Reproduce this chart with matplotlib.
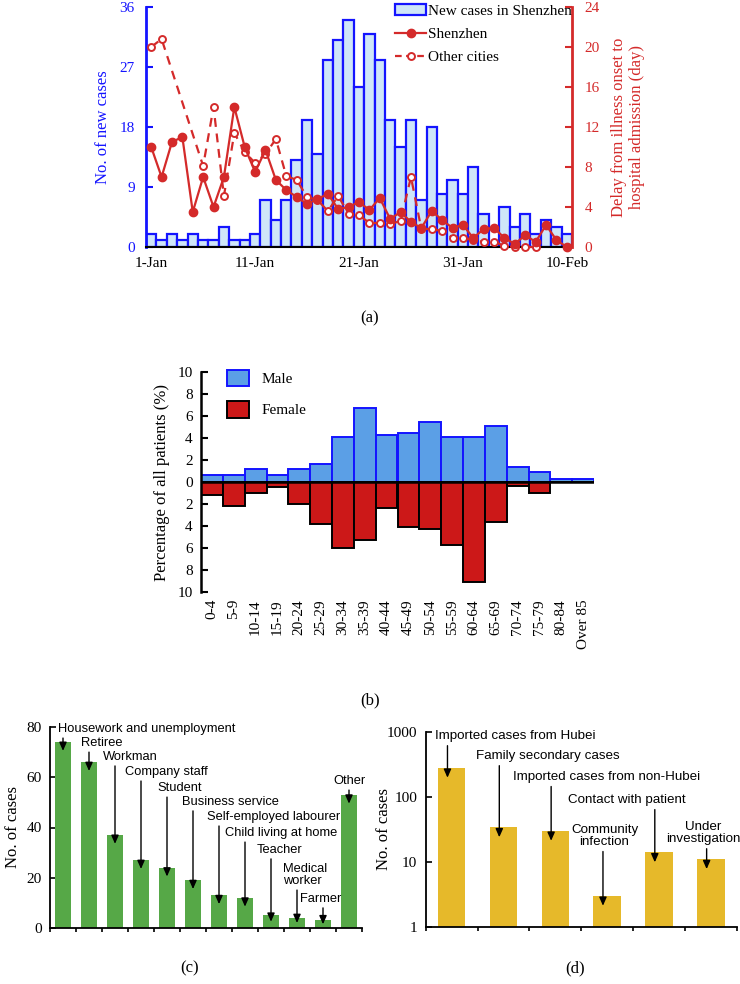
import numpy as np
import matplotlib
matplotlib.use('Agg')
import matplotlib.pyplot as plt
from matplotlib.patches import Patch
from matplotlib.lines import Line2D

SERIF = ['Liberation Serif', 'DejaVu Serif']
SANS = ['Liberation Sans', 'DejaVu Sans']
plt.rcParams['font.family'] = SERIF

# ---------------- data ----------------
# (a)
days = list(range(1, 42))
date_ticks = [1, 11, 21, 31, 41]
date_labels = ['1-Jan', '11-Jan', '21-Jan', '31-Jan', '10-Feb']
new_cases = [2, 1, 2, 1, 2, 1, 1, 3, 1, 1,
             2, 7, 4, 7, 13, 19, 14, 28, 31, 34,
             24, 32, 28, 19, 15, 19, 7, 18, 8, 10,
             8, 12, 5, 0, 6, 3, 5, 2, 4, 3, 2]
delay_shenzhen = [10, 7, 10.5, 11, 3.5, 7, 4, 7, 14, 10,
                  7.5, 9.7, 6.7, 5.7, 5.0, 4.3, 4.8, 5.3, 3.8, 4.0,
                  4.5, 3.7, 4.9, 2.8, 3.5, 2.5, 1.9, 3.6, 2.7, 1.9,
                  2.2, 0.9, 1.8, 1.9, 0.9, 0.3, 1.2, 0.5, 2.2, 0.7, 0]
other_days = [1, 2, 6, 7, 8, 9, 10, 11, 12, 13, 14, 15, 16, 17, 18, 19, 20, 21,
              22, 23, 24, 25, 26, 27, 28, 29, 30, 31, 32, 33, 34, 35, 36, 37, 38]
delay_other = [20, 20.8, 8.1, 14, 5.1, 11.4, 9.5, 8.4, 9.3, 10.8, 7.1, 6.7,
               5.0, 4.7, 3.6, 5.1, 3.3, 3.2, 2.4, 2.4, 2.3, 2.6, 7.0, 1.8,
               1.8, 1.6, 0.95, 0.9, 0.7, 0.5, 0.55, 0.1, 0, 0, 0]

# (b)
age_groups = ['0-4', '5-9', '10-14', '15-19', '20-24', '25-29', '30-34', '35-39',
              '40-44', '45-49', '50-54', '55-59', '60-64', '65-69', '70-74',
              '75-79', '80-84', 'Over 85']
male_pct = [0.67, 0.67, 1.2, 0.67, 1.2, 1.67, 4.05, 6.7, 4.3, 4.5, 5.5, 4.05,
            4.05, 5.05, 1.4, 0.9, 0.24, 0.24]
female_pct = [1.2, 2.2, 0.97, 0.45, 1.97, 3.85, 6.0, 5.25, 2.36, 4.05, 4.3,
              5.7, 9.1, 3.6, 0.4, 0.97, 0, 0]

# (c)
occupations = ['Housework and unemployment', 'Retiree', 'Workman', 'Company staff',
               'Student', 'Business service', 'Self-employed labourer',
               'Child living at home', 'Teacher', 'Medical\nworker', 'Farmer', 'Other']
occupation_counts = [74, 66, 37, 27, 24, 19, 13, 12, 5, 4, 3, 53]

# (d)
sources = ['Imported cases from Hubei', 'Family secondary cases',
           'Imported cases from non-Hubei', 'Community\ninfection',
           'Contact with patient', 'Under\ninvestigation']
source_counts = [280, 34, 30, 3, 14, 11]

# ---------------- style ----------------
BLUE = '#1414ff'
RED = '#d42a2a'
BAR_A = '#cfe6f8'
MALE = '#5b9fe6'
FEMALE = '#cc1818'
GREEN = '#56a847'
GOLD = '#e6b92a'
FS = 11

fig = plt.figure(figsize=(7.4, 9.84), dpi=100)

# ================= (a) =================
ax = fig.add_axes([146/740, 1-247/984, 426/740, 240/984])
ax.bar(days, new_cases, width=1.0, color=BAR_A, edgecolor=BLUE, linewidth=1.6, zorder=2)
ax.set_xlim(0.5, 41.5)
ax.set_ylim(0, 36)
ax.set_yticks([0, 9, 18, 27, 36])
ax.set_xticks(date_ticks)
ax.set_xticklabels(date_labels)
ax.tick_params(axis='y', direction='in', colors=BLUE, labelsize=FS, length=5, width=1.5, pad=8)
ax.tick_params(axis='x', direction='in', colors='black', labelsize=FS, length=4, width=1.2, pad=7)
ax.spines['top'].set_visible(False)
ax.spines['right'].set_visible(False)
ax.spines['left'].set_color(BLUE)
ax.spines['left'].set_linewidth(2)
ax.spines['bottom'].set_linewidth(1.5)
ax.set_ylabel('No. of new cases', color=BLUE, fontsize=12, labelpad=6)

ax2 = ax.twinx()
ax2.set_ylim(0, 24)
ax2.set_yticks([0, 4, 8, 12, 16, 20, 24])
ax2.plot(days, delay_shenzhen, '-', color=RED, lw=1.6, marker='o', ms=6,
         mfc=RED, mec=RED, clip_on=False, zorder=4)
ax2.plot(other_days, delay_other, '--', color=RED, lw=1.6, dashes=(4, 3), marker='o',
         ms=5, mfc='white', mec=RED, mew=1.4, clip_on=False, zorder=3)
ax2.tick_params(axis='y', direction='in', colors=RED, labelsize=FS, length=5, width=1.5, pad=9)
for s in ['top', 'left', 'bottom']:
    ax2.spines[s].set_visible(False)
ax2.spines['right'].set_color(RED)
ax2.spines['right'].set_linewidth(2)
ax2.set_ylabel('Delay from illness onset to\nhospital admission (day)', color=RED,
               fontsize=12, labelpad=8)
handles = [Patch(facecolor=BAR_A, edgecolor=BLUE, linewidth=1.6),
           Line2D([], [], color=RED, lw=1.6, marker='o', ms=6, mfc=RED, mec=RED),
           Line2D([], [], color=RED, lw=1.6, ls='--', dashes=(3, 2), marker='o', ms=5,
                  mfc='white', mec=RED, mew=1.4)]
ax2.legend(handles, ['New cases in Shenzhen', 'Shenzhen', 'Other cities'],
           loc='upper right', bbox_to_anchor=(1.0, 1.012), frameon=False, fontsize=FS,
           handlelength=2.0, handletextpad=0.15, labelspacing=0.62, borderpad=0,
           borderaxespad=0)
fig.text(0.5, 1-318/984, '(a)', ha='center', va='center', fontsize=12)

# ================= (b) =================
bx = fig.add_axes([201/740, 1-592/984, 393/740, 220/984])
xb = np.arange(len(age_groups))
bx.bar(xb, male_pct, width=1.0, color=MALE, edgecolor=BLUE, linewidth=1.4, zorder=2)
bx.bar(xb, [-v for v in female_pct], width=1.0, color=FEMALE, edgecolor='black',
       linewidth=1.4, zorder=2)
bx.axhline(0, color='black', lw=1.8, zorder=3)
bx.set_xlim(-0.5, len(age_groups) - 0.5)
bx.set_ylim(-10, 10)
yt = [-10, -8, -6, -4, -2, 0, 2, 4, 6, 8, 10]
bx.set_yticks(yt)
bx.set_yticklabels([str(abs(v)) for v in yt])
bx.set_xticks(xb)
bx.set_xticklabels(age_groups, rotation=90)
bx.tick_params(axis='y', direction='in', labelsize=FS, length=5, width=1.5, pad=6)
bx.tick_params(axis='x', length=0, labelsize=FS, pad=5)
for s in ['top', 'right', 'bottom']:
    bx.spines[s].set_visible(False)
bx.spines['left'].set_linewidth(1.8)
bx.set_ylabel('Percentage of all patients (%)', fontsize=12, labelpad=5)
bx.legend([Patch(facecolor=MALE, edgecolor=BLUE, linewidth=1.4),
           Patch(facecolor=FEMALE, edgecolor='black', linewidth=1.4)],
          ['Male', 'Female'], loc='upper left', bbox_to_anchor=(0.065, 1.01),
          frameon=False, fontsize=FS, handlelength=1.5, handleheight=1.3,
          handletextpad=0.8, labelspacing=0.95, borderpad=0, borderaxespad=0)
fig.text(0.5, 1-700/984, '(b)', ha='center', va='center', fontsize=12)

# ================= (c) =================
cx = fig.add_axes([50/740, 1-928/984, 312/740, 201/984])
xc = np.arange(len(occupations))
cx.bar(xc, occupation_counts, width=0.62, color=GREEN, zorder=2)
cx.set_xlim(-0.5, len(occupations) - 0.5)
cx.set_ylim(0, 80)
cx.set_yticks([0, 20, 40, 60, 80])
cx.set_xticks(np.arange(len(occupations) + 1) - 0.5)
cx.set_xticklabels([])
cx.tick_params(axis='y', direction='in', labelsize=FS, length=4, width=1.2, pad=6)
cx.tick_params(axis='x', direction='out', length=3, width=1.2)
for s in ['top', 'right']:
    cx.spines[s].set_visible(False)
cx.spines['left'].set_linewidth(1.3)
cx.spines['bottom'].set_linewidth(1.3)
cx.set_ylabel('No. of cases', fontsize=12, labelpad=4)
# label layout (category units / data units)
c_text_x = [-0.19, 0.69, 1.54, 2.38, 3.62, 4.58, 5.54, 6.23, 7.46, 8.46, 9.12, 10.38]
c_text_y = [76.8, 71.2, 65.7, 59.7, 53.3, 47.8, 41.8, 35.4, 28.7, 16.3, 9.2, 56.1]
for i, (lab, v) in enumerate(zip(occupations, occupation_counts)):
    cx.text(c_text_x[i], c_text_y[i], lab, ha='left', va='bottom', fontsize=9.3,
            family=SANS, linespacing=1.0, zorder=5)
    tip = max(v - 3.5, v * 0.5)
    cx.annotate('', xy=(i, tip), xytext=(i, c_text_y[i] - 1.2),
                arrowprops=dict(arrowstyle='-|>,head_length=0.5,head_width=0.22',
                                color='black', lw=1.0, shrinkA=0, shrinkB=0), zorder=5)
fig.text(190/740, 1-968/984, '(c)', ha='center', va='center', fontsize=12)

# ================= (d) =================
dx = fig.add_axes([425.7/740, 1-926.7/984, 311/740, 195/984])
xd = np.arange(len(sources))
dx.bar(xd, source_counts, width=0.53, color=GOLD, zorder=2)
dx.set_yscale('log')
dx.set_xlim(-0.5, len(sources) - 0.5)
dx.set_ylim(1, 1000)
dx.set_yticks([1, 10, 100, 1000])
dx.set_yticklabels(['1', '10', '100', '1000'])
dx.yaxis.set_minor_locator(matplotlib.ticker.NullLocator())
dx.set_xticks(np.arange(len(sources) + 1) - 0.5)
dx.set_xticklabels([])
dx.tick_params(axis='y', direction='in', labelsize=FS, length=4, width=1.2, pad=6)
dx.tick_params(axis='x', direction='out', length=3, width=1.2)
for s in ['top', 'right']:
    dx.spines[s].set_visible(False)
dx.spines['left'].set_linewidth(1.3)
dx.spines['bottom'].set_linewidth(1.3)
dx.set_ylabel('No. of cases', fontsize=12, labelpad=-4)
d_text_x = [-0.32, 0.47, 1.19, 2.95, 2.25, 4.85]
d_text_y = [692, 341, 163, 16.3, 72, 18]
d_ha = ['left', 'left', 'left', 'center', 'left', 'center']
for i, (lab, v) in enumerate(zip(sources, source_counts)):
    dx.text(d_text_x[i], d_text_y[i], lab, ha=d_ha[i], va='bottom', fontsize=9.6,
            family=SANS, linespacing=1.0, multialignment='center', zorder=5)
    dx.annotate('', xy=(i - 0.08, v * 0.7), xytext=(i - 0.08, d_text_y[i] * 0.88),
                arrowprops=dict(arrowstyle='-|>,head_length=0.5,head_width=0.22',
                                color='black', lw=1.0, shrinkA=0, shrinkB=0), zorder=5)
fig.text(575/740, 1-968/984, '(d)', ha='center', va='center', fontsize=12)

fig.savefig('out.png', dpi=100)
